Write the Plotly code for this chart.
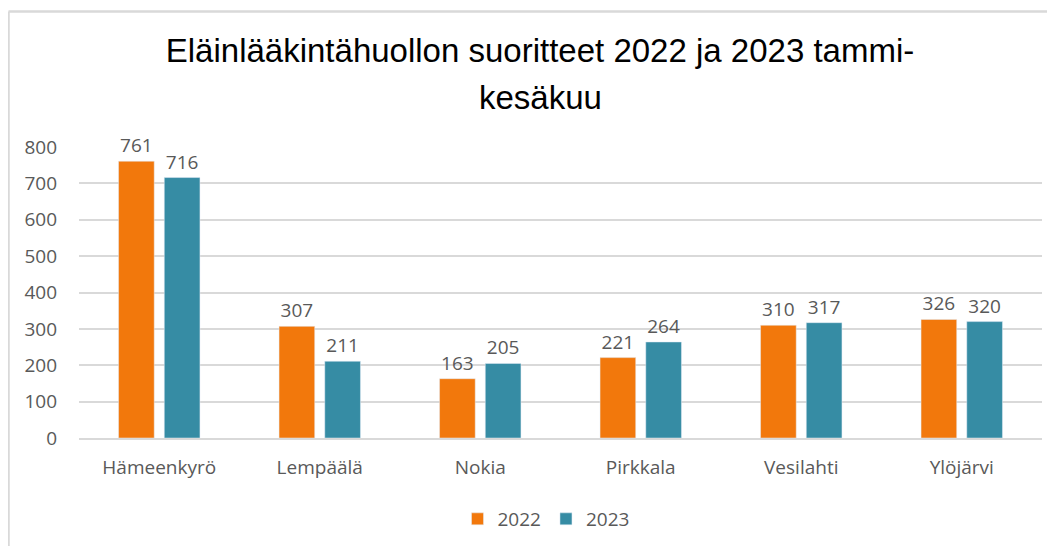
import plotly.graph_objects as go

categories = ["Hämeenkyrö", "Lempäälä", "Nokia", "Pirkkala", "Vesilahti", "Ylöjärvi"]
values_2022 = [761, 307, 163, 221, 310, 326]
values_2023 = [716, 211, 205, 264, 317, 320]
series_names = ["2022", "2023"]
y_ticks = [0, 100, 200, 300, 400, 500, 600, 700, 800]
title_line1 = "Eläinlääkintähuollon suoritteet 2022 ja 2023 tammi-"
title_line2 = "kesäkuu"

orange = "#F2780C"
teal = "#368CA4"
gray_text = "#595959"
font_family = "Open Sans, Liberation Sans, sans-serif"
title_font = dict(family="Liberation Sans Narrow, Arial Narrow, sans-serif", size=33, color="#000000")

fig = go.Figure()
for name, vals, col in [(series_names[0], values_2022, orange), (series_names[1], values_2023, teal)]:
    fig.add_trace(go.Bar(
        x=categories, y=vals, name=name,
        marker=dict(color=col),
        text=vals, textposition="outside",
        textfont=dict(size=19, color=gray_text, family=font_family),
        cliponaxis=False,
    ))

# page is offset by the 8px body margin
OFF = 8
W, H = 1055, 546
ml, mt = 79 - OFF, 147 - OFF
plot_w, plot_h = 1042 - 79, 291
mr = W - ml - plot_w
mb = H - mt - plot_h


def px_x(p):
    return (p - OFF - ml) / plot_w


def px_y(p):
    return (H - mb - (p - OFF)) / plot_h


fig.update_layout(
    width=W, height=H,
    margin=dict(l=ml, r=mr, t=mt, b=mb, autoexpand=False),
    paper_bgcolor="white", plot_bgcolor="white",
    barmode="group", bargap=0.43, bargroupgap=0.22,
    title=dict(
        text=title_line1,
        x=(540 - OFF) / W, xanchor="center", xref="container",
        y=1 - (50 - OFF) / H, yanchor="middle", yref="container",
        font=title_font,
    ),
    annotations=[
        dict(text=title_line2, xref="paper", yref="paper",
             x=(540 - OFF - ml) / plot_w, y=px_y(98), xanchor="center", yanchor="middle",
             showarrow=False, font=title_font),
    ],
    font=dict(family=font_family, color=gray_text),
    xaxis=dict(
        showgrid=False, showline=True, linecolor="#D9D9D9", linewidth=1.5,
        tickfont=dict(size=19, color=gray_text), ticks="",
        ticklabelstandoff=11, automargin=False,
    ),
    yaxis=dict(
        range=[0, 800], tickvals=y_ticks, showgrid=True, gridcolor="#D9D9D9", gridwidth=1.5,
        zeroline=False, showline=False,
        tickfont=dict(size=19, color=gray_text), ticks="",
        ticklabelstandoff=21, automargin=False,
    ),
    legend=dict(
        orientation="h", x=(546 - OFF) / W, xanchor="center", xref="container",
        y=1 - (519 - OFF) / H, yanchor="middle", yref="container",
        font=dict(size=19, color=gray_text), traceorder="normal",
    ),
    showlegend=True,
    shapes=[
        dict(type="line", xref="paper", yref="paper",
             x0=px_x(8.5), x1=px_x(1070), y0=px_y(11.5), y1=px_y(11.5),
             line=dict(color="#D9D9D9", width=2.5)),
        dict(type="line", xref="paper", yref="paper",
             x0=px_x(8.5), x1=px_x(8.5), y0=px_y(11.5), y1=px_y(570),
             line=dict(color="#D9D9D9", width=2.5)),
    ],
)

fig.write_html("out.html")
